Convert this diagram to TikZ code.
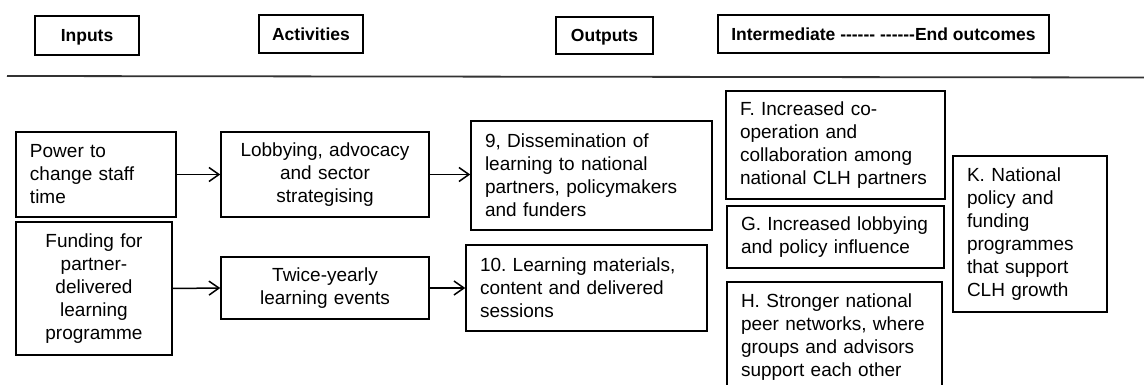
\documentclass[tikz,border=0pt]{standalone}
\usepackage{fontspec}
\setmainfont{Liberation Sans}[Ligatures=NoCommon]
\usetikzlibrary{arrows.meta}
\frenchspacing
\begin{document}
\begin{tikzpicture}[x=1pt,y=-1pt,
  hbox/.style={draw=black, line width=1.5pt, inner sep=0pt, align=center,
    text height=12.5pt, text depth=0pt,
    font=\fontsize{17.5}{21}\selectfont\bfseries},
  lbox/.style={draw=black, line width=1.5pt, inner xsep=14pt, inner ysep=0pt, align=left,
    font=\fontsize{19}{23}\selectfont\frenchspacing},
  cbox/.style={draw=black, line width=1.5pt, inner xsep=6pt, inner ysep=0pt, align=center,
    font=\fontsize{19}{23}\selectfont\frenchspacing},
  conn/.style={line width=1.5pt, -{Straight Barb[length=10pt,width=14pt,line width=1.5pt]}}
]
\useasboundingbox (0,0) rectangle (1144,385);
% header
\node[hbox, minimum width=104pt, minimum height=39pt] (inputs) at (87,35.5) {Inputs};
\node[hbox, minimum width=104pt, minimum height=38pt] (activities) at (311,34) {Activities};
\node[hbox, minimum width=97pt, minimum height=37pt] (outputs) at (604.5,35.5) {Outputs};
\node[hbox, minimum width=331pt, minimum height=38pt] (outcomes) at (883.5,34) {Intermediate -{}-{}-{}-{}-{}- -{}-{}-{}-{}-{}-End outcomes};
\coordinate (ruleL) at (7,76);
\coordinate (ruleR) at (1144,77.5);
\draw[line width=1.8pt, black!80] (ruleL) -- (ruleR);
% inputs
\node[lbox, text width=132pt, minimum height=85pt] (power) at (96,174.5) {Power to\\change staff\\time};
\node[cbox, text width=144pt, minimum height=133pt] (funding) at (94,288.5) {Funding for\\partner-\\delivered\\learning\\programme};
% activities
\node[cbox, text width=196pt, minimum height=85pt] (lobby) at (325,174.5) {Lobbying, advocacy\\and sector\\strategising};
\node[cbox, text width=196pt, minimum height=62pt] (twice) at (325,288) {Twice-yearly\\learning events};
% outputs
\node[lbox, text width=213pt, minimum height=109pt] (diss) at (591.5,175.5) {9, Dissemination of\\learning to national\\partners, policymakers\\and funders};
\node[lbox, text width=213pt, minimum height=86pt] (mat) at (586.5,288) {10. Learning materials,\\content and delivered\\sessions};
% outcomes
\node[lbox, text width=191pt, minimum height=108pt] (F) at (835.5,145) {F. Increased co-\\operation and\\collaboration among\\national CLH partners};
\node[lbox, text width=189pt, minimum height=62pt] (G) at (835.5,237) {G. Increased lobbying\\and policy influence};
\node[lbox, text width=187pt, minimum height=110pt] (H) at (834.5,337) {H. Stronger national\\peer networks, where\\groups and advisors\\support each other};
\node[lbox, text width=126pt, minimum height=156pt] (K) at (1030,234) {K. National\\policy and\\funding\\programmes\\that support\\CLH growth};
% connectors
\draw[conn] (power.east) -- (lobby.west);
\draw[conn] (lobby.east) -- (diss.west |- lobby.east);
\draw[conn] (funding.east) -- (twice.west);
\draw[conn] (twice.east) -- (mat.west);
\end{tikzpicture}
\end{document}
